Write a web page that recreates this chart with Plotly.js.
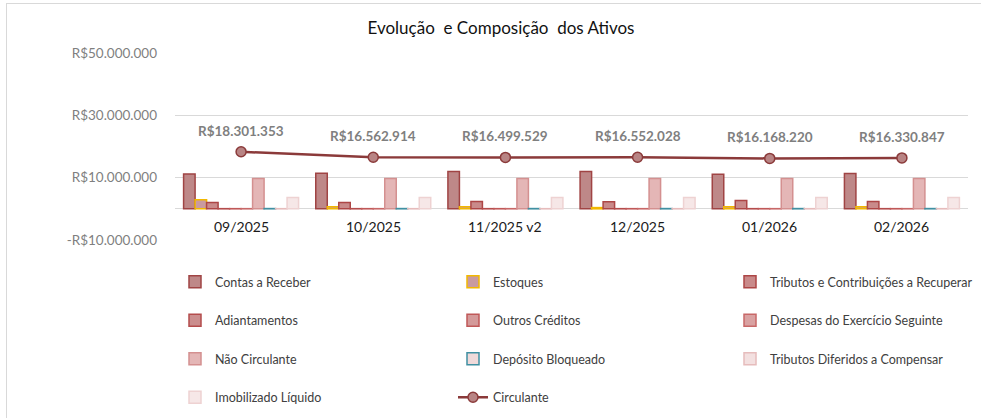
<!DOCTYPE html>
<html>
<head>
<meta charset="utf-8">
<script src="https://cdn.plot.ly/plotly-3.0.1.min.js"></script>
<style>
  html, body { margin: 0; padding: 0; background: #fff; }
  #wrap { position: relative; width: 981px; height: 418px; }
  #chart { position: absolute; left: 0; top: 0; width: 981px; height: 418px; }
  #frame { position: absolute; left: 6px; top: 3px; width: 990px; height: 430px;
           border-left: 1px solid #d9d9d9; border-top: 1px solid #d9d9d9; pointer-events: none; }
</style>
</head>
<body>
<div id="wrap"><div id="chart"></div><div id="frame"></div></div>
<script>
const categories = ["09/2025", "10/2025", "11/2025 v2", "12/2025", "01/2026", "02/2026"];

const contasReceber   = [11200000, 11400000, 12000000, 12000000, 11100000, 11300000];
const estoques        = [2900000, 700000, 700000, 400000, 700000, 700000];
const tributosRecup   = [2000000, 2000000, 2350000, 2300000, 2700000, 2350000];
const adiantamentos   = [60000, 60000, 60000, 60000, 60000, 60000];
const outrosCreditos  = [60000, 60000, 60000, 60000, 60000, 60000];
const despesasExerc   = [60000, 60000, 60000, 60000, 60000, 60000];
const naoCirculante   = [9700000, 9700000, 9700000, 9700000, 9700000, 9700000];
const depositoBloq    = [90000, 90000, 90000, 90000, 90000, 90000];
const tributosDiferid = [60000, 60000, 60000, 60000, 60000, 60000];
const imobilizado     = [3600000, 3600000, 3600000, 3600000, 3600000, 3600000];
const circulante      = [18301353, 16562914, 16499529, 16552028, 16168220, 16330847];

const yTickVals = [-10000000, 10000000, 30000000, 50000000];
const yTickText = ["-R$10.000.000", "R$10.000.000", "R$30.000.000", "R$50.000.000"];

const FONT = "Lato, 'Open Sans', sans-serif";

function fmt(v) {
  return "R$" + String(Math.round(v)).replace(/\B(?=(\d{3})+(?!\d))/g, ".");
}

// legend column: legend (col 1), legend2 (col 2), legend3 (col 3)
const barSeries = [
  {name: "Contas a Receber", y: contasReceber, fill: "#be8888", line: "#a04444", legend: "legend"},
  {name: "Estoques", y: estoques, fill: "#c99aa0", line: "#f2b800", legend: "legend2"},
  {name: "Tributos e Contribuições a Recuperar", y: tributosRecup, fill: "#c98a8a", line: "#ad4646", legend: "legend3"},
  {name: "Adiantamentos", y: adiantamentos, fill: "#cb8e8e", line: "#b44c4c", legend: "legend"},
  {name: "Outros Créditos", y: outrosCreditos, fill: "#d49a9a", line: "#c05858", legend: "legend2"},
  {name: "Despesas do Exercício Seguinte", y: despesasExerc, fill: "#d9a2a2", line: "#c86868", legend: "legend3"},
  {name: "Não Circulante", y: naoCirculante, fill: "#e4b6b6", line: "#d49090", legend: "legend"},
  {name: "Depósito Bloqueado", y: depositoBloq, fill: "#f0dada", line: "#4090a2", legend: "legend2"},
  {name: "Tributos Diferidos a Compensar", y: tributosDiferid, fill: "#f3e0e0", line: "#e6bcbc", legend: "legend3"},
  {name: "Imobilizado Líquido", y: imobilizado, fill: "#f6e7e7", line: "#eed2d2", legend: "legend"}
];

const traces = barSeries.map((s, i) => ({
  type: "bar",
  name: s.name,
  x: categories,
  y: s.y,
  marker: {color: s.fill, line: {color: s.line, width: 1.5}},
  legend: s.legend,
  legendgroup: "g" + i,
  hoverinfo: "skip"
}));

traces.push({
  type: "scatter",
  mode: "lines+markers",
  name: "Circulante",
  x: categories,
  y: circulante,
  line: {color: "#8b3a3a", width: 2.5},
  marker: {size: 10, color: "#b88484", line: {color: "#8b3a3a", width: 1.5}},
  legend: "legend2",
  legendgroup: "gline",
  hoverinfo: "skip"
});

const annotations = [];
categories.forEach((c, i) => {
  annotations.push({
    x: c, y: circulante[i], xref: "x", yref: "y",
    text: "<b>" + fmt(circulante[i]) + "</b>",
    showarrow: false, yanchor: "middle", yshift: 21,
    font: {family: FONT, size: 13.5, color: "#7f7f7f"}
  });
  annotations.push({
    x: c, y: 0, xref: "x", yref: "y",
    text: c, showarrow: false, yanchor: "middle", yshift: -18,
    font: {family: FONT, size: 14, color: "#1a1a1a"}
  });
});

function legendAt(pxX) {
  return {
    orientation: "v",
    x: (pxX - 175) / 793, xanchor: "left",
    y: (240 - 267) / 187, yanchor: "top",
    traceorder: "grouped",
    tracegroupgap: 19.3,
    font: {family: FONT, size: 12.5, color: "#404040"},
    bgcolor: "rgba(0,0,0,0)",
    itemclick: false, itemdoubleclick: false
  };
}

const layout = {
  width: 981, height: 418,
  margin: {l: 175, r: 13, t: 53, b: 178, pad: 0, autoexpand: false},
  paper_bgcolor: "#ffffff",
  plot_bgcolor: "#ffffff",
  title: {
    text: "Evolução  e Composição  dos Ativos",
    xref: "container", x: 501 / 981, xanchor: "center",
    yref: "container", y: 1 - 28 / 418, yanchor: "middle",
    font: {family: FONT, size: 17, color: "#111111"}
  },
  barmode: "group",
  bargap: 0.13,
  bargroupgap: 0,
  xaxis: {
    type: "category",
    showticklabels: false,
    showgrid: false,
    zeroline: false,
    showline: false,
    ticks: "",
    fixedrange: true
  },
  yaxis: {
    range: [-10000000, 50000000],
    tickvals: yTickVals,
    ticktext: yTickText,
    showgrid: true,
    gridcolor: "#d9d9d9",
    gridwidth: 1,
    zeroline: true,
    zerolinecolor: "#d9d9d9",
    zerolinewidth: 1.3,
    showline: false,
    ticks: "",
    ticklabelstandoff: 17,
    tickfont: {family: FONT, size: 13.5, color: "#7f7f7f"},
    fixedrange: true
  },
  showlegend: true,
  legend: legendAt(175),
  legend2: legendAt(453),
  legend3: legendAt(730),
  annotations: annotations,
  hovermode: false
};

Plotly.newPlot("chart", traces, layout, {displayModeBar: false, staticPlot: true});
</script>
</body>
</html>
